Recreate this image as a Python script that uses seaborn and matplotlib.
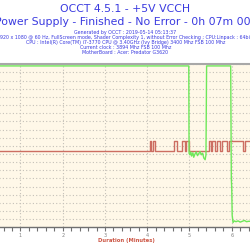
import matplotlib
matplotlib.use("Agg")
import matplotlib.pyplot as plt
import seaborn as sns
import pandas as pd
from matplotlib.ticker import MultipleLocator

# ---- data (time in minutes, voltage in V) ----
green_t = [0.0, 4.983, 4.99, 5.01, 5.03, 5.05, 5.08, 5.10, 5.13, 5.16, 5.19, 5.22,
           5.25, 5.28, 5.31, 5.34, 5.37, 5.39, 5.405, 5.975, 5.99, 6.0, 6.01, 6.03,
           6.06, 6.10, 6.15, 6.20, 6.25, 6.30, 6.35, 6.40, 6.50, 6.70, 7.0]
green_v = [5.196, 5.196, 4.982, 4.978, 4.985, 4.975, 4.983, 4.972, 4.980, 4.985, 4.976, 4.981,
           4.986, 4.978, 4.982, 4.970, 4.966, 4.978, 5.196, 5.196, 4.920, 4.895, 4.830, 4.812,
           4.816, 4.814, 4.816, 4.813, 4.815, 4.817, 4.814, 4.815, 4.815, 4.814, 4.815]

red_t = [0.0, 4.06, 4.10, 4.125, 4.19, 4.636, 4.707, 4.825, 4.889, 4.929, 4.983,
         5.45, 5.51, 5.54, 5.60, 5.65, 5.73, 5.78, 5.88, 5.93, 6.27, 6.32, 7.0]
red_v = [4.987, 5.012, 4.987, 5.012, 4.987, 5.012, 4.987, 5.012, 4.987, 5.012, 4.987,
         5.012, 4.987, 5.012, 4.987, 5.012, 4.987, 5.012, 4.987, 5.012, 4.987, 5.012, 5.012]

x_ticks = [0, 1, 2, 3, 4, 5, 6, 7]
x_tick_labels = ["", "1", "2", "3", "4", "5", "6", ""]

title = "OCCT 4.5.1 - +5V VCCH"
subtitle = "Power Supply - Finished - No Error - 0h 07m 00s"
info_lines = [
    "Generated by OCCT : 2019-05-14 05:13:37",
    "1920 x 1080 @ 60 Hz, FullScreen mode, Shader Complexity 1, without Error Checking ; CPU:Linpack : 64bits",
    "CPU : Intel(R) Core(TM) i7-3770 CPU @ 3.40GHz (Ivy Bridge) 3400 Mhz FSB 100 Mhz",
    "Current clock : 3894 Mhz FSB 100 Mhz",
    "MotherBoard : Acer: Predator G3620",
]

sns.set_theme(style="white")
plt.rcParams["font.family"] = ["DejaVu Sans"]

W, H = 250, 250
fig = plt.figure(figsize=(2.5, 2.5), dpi=100)
fig.patch.set_facecolor("white")

left_px, right_px = -21.8, 274.0
top_px, bottom_px = 64.3, 227.4
ax = fig.add_axes([left_px / W, 1 - bottom_px / H, (right_px - left_px) / W, (bottom_px - top_px) / H])
ax.set_facecolor("#fff8e8")

green_df = pd.DataFrame({"t": green_t, "v": green_v})
red_df = pd.DataFrame({"t": red_t, "v": red_v})

sns.lineplot(data=red_df, x="t", y="v", ax=ax, color="#cc6e62", linewidth=1.0,
             drawstyle="steps-post", zorder=3)
sns.lineplot(data=green_df, x="t", y="v", ax=ax, color="#6ee85a", linewidth=1.0, zorder=4)

ax.set_xlim(0, 7)
ax.set_ylim(4.80, 5.20)
ax.yaxis.set_major_locator(MultipleLocator(0.02))
ax.set_yticklabels([])
ax.tick_params(axis="y", left=False, right=False, labelleft=False)

ax.set_xticks(x_ticks)
ax.set_xticklabels(x_tick_labels, fontsize=3.5, color="#808080")
ax.xaxis.set_minor_locator(MultipleLocator(0.2))
ax.tick_params(axis="x", which="both", direction="out", length=3, width=0.8,
               color="#707070", bottom=True, pad=0.8)

ax.grid(True, which="major", axis="both", color="#c4c0b8", linestyle=(0, (1, 2)), linewidth=0.8)

for s in ["left", "right"]:
    ax.spines[s].set_visible(False)
ax.spines["bottom"].set_color("#707070")
ax.spines["bottom"].set_linewidth(1.0)
ax.spines["top"].set_color("#a8a8a8")
ax.spines["top"].set_linewidth(1.5)

ax.set_xlabel("")
ax.set_ylabel("")

blue = "#3a3ae0"
cx = 125.5 / W
fig.text(cx, 1 - 8.5 / H, title, ha="center", va="center", fontsize=7.8, color=blue)
fig.text(cx, 1 - 22 / H, subtitle, ha="center", va="center", fontsize=7.8, color=blue)
for i, line in enumerate(info_lines):
    fig.text(cx, 1 - (32.3 + 5.1 * i) / H, line, ha="center", va="center",
             fontsize=3.4, color=blue)

fig.text(126 / W, 1 - 240.5 / H, "Duration (Minutes)", ha="center", va="center",
         fontsize=3.8, color="#cc5544", fontweight="bold")

fig.savefig("out.png", dpi=100)
